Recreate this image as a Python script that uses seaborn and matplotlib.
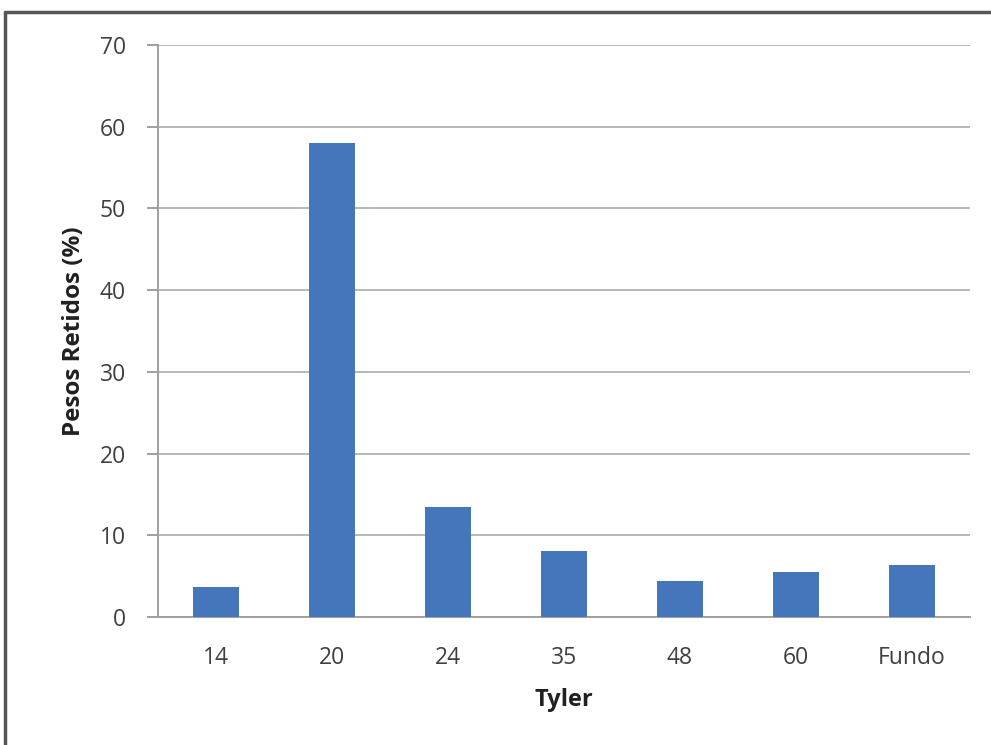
import matplotlib
matplotlib.use("Agg")
import matplotlib.pyplot as plt
import seaborn as sns
import pandas as pd
from matplotlib.lines import Line2D

categories = ["14", "20", "24", "35", "48", "60", "Fundo"]
values = [3.7, 58.0, 13.5, 8.1, 4.4, 5.5, 6.4]
yticks = [0, 10, 20, 30, 40, 50, 60, 70]

sns.set_theme(style="white")
plt.rcParams["font.family"] = ["Open Sans", "DejaVu Sans"]

df = pd.DataFrame({"Tyler": categories, "Pesos": values})

fig = plt.figure(figsize=(9.91, 7.45), dpi=100)
ax = fig.add_axes([0.1594, 0.1718, 0.8194, 0.7678])

sns.barplot(data=df, x="Tyler", y="Pesos", order=categories, color="#4576BC",
            saturation=1, width=0.4, linewidth=0, ax=ax, zorder=3)

text_color = "#404040"
grid_color = "#B8B8B8"

ax.set_ylim(0, 70)
ax.set_xlim(-0.5, len(categories) - 0.5)
ax.set_yticks(yticks)
ax.set_yticklabels([str(t) for t in yticks])
ax.yaxis.grid(True, color=grid_color, linewidth=1.4, zorder=0)
ax.set_axisbelow(True)

for side in ("top", "right"):
    ax.spines[side].set_visible(False)
for side in ("left", "bottom"):
    ax.spines[side].set_color("#A0A0A0")
    ax.spines[side].set_linewidth(1.4)

ax.tick_params(axis="y", which="both", left=True, length=8, width=1.4,
               color="#A0A0A0", direction="out", pad=15,
               labelsize=16.5, labelcolor=text_color)
ax.tick_params(axis="x", bottom=False, pad=15, labelsize=16.5, labelcolor=text_color)

ax.set_xlabel("Tyler", fontsize=17, fontweight="bold", color="#202020", labelpad=13)
ax.set_ylabel("Pesos Retidos (%)", fontsize=17.5, fontweight="bold", color="#202020", labelpad=10)

# chart frame edges
fig.add_artist(Line2D([0.005, 1.0], [1 - 12 / 745] * 2, transform=fig.transFigure,
                      color="#555555", linewidth=2.5))
fig.add_artist(Line2D([0.005, 0.005], [0.0, 1 - 12 / 745], transform=fig.transFigure,
                      color="#555555", linewidth=2.5))

fig.savefig("out.png", dpi=100, facecolor="white")
